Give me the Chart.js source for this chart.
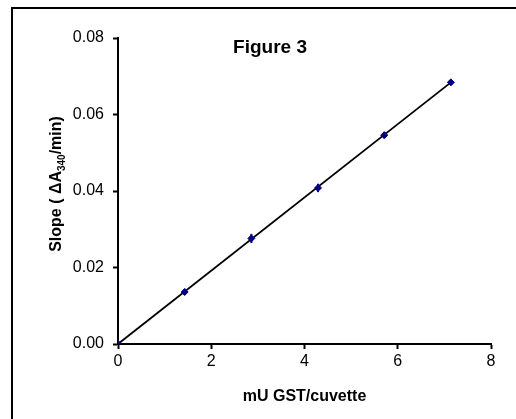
<!DOCTYPE html>
<html>
<head>
<meta charset="utf-8">
<script src="https://cdn.jsdelivr.net/npm/chart.js@4"></script>
<style>
  html, body { margin: 0; padding: 0; background: #fff; }
  #wrap { width: 516px; height: 419px; position: relative; }
</style>
</head>
<body>
<div id="wrap"><canvas id="fig3"></canvas></div>
<script>
// GST amount per cuvette vs. slope of A340
const gstUnits = [0, 1.43, 2.86, 4.29, 5.71, 7.14];
const slopes = [0, 0.0136, 0.0276, 0.0408, 0.0546, 0.0684];
const slopeErr = [0, 0.0008, 0.0012, 0.0011, 0.0008, 0.0005];
// fitted line end points
const fitX = [0, 7.14];
const fitY = [0, 0.0684];
const xTicks = [0, 2, 4, 6, 8];
const yTicks = [0, 0.02, 0.04, 0.06, 0.08];

const navy = '#000080';
const fontFamily = "'Liberation Sans', Arial, sans-serif";

// frame round the whole figure, plus the chart's own title
const framePlugin = {
  id: 'frame',
  beforeDraw(chart) {
    const ctx = chart.ctx;
    ctx.save();
    ctx.fillStyle = '#fff';
    ctx.fillRect(0, 0, chart.width, chart.height);
    ctx.strokeStyle = '#000';
    ctx.lineWidth = 2;
    ctx.strokeRect(12, 8, 700, 700);
    ctx.restore();
  },
  afterDraw(chart) {
    const ctx = chart.ctx;
    ctx.save();
    ctx.fillStyle = '#000';
    ctx.textAlign = 'center';
    ctx.textBaseline = 'middle';
    ctx.font = 'bold 19px ' + fontFamily;
    ctx.fillText('Figure 3', 270, 48);

    // y axis title with subscript
    const parts = [
      { t: 'Slope ( ΔA', size: 16, dy: 0 },
      { t: '340', size: 10, dy: 4 },
      { t: '/min)', size: 16, dy: 0 }
    ];
    let total = 0;
    parts.forEach(p => {
      ctx.font = 'bold ' + p.size + 'px ' + fontFamily;
      p.w = ctx.measureText(p.t).width;
      total += p.w;
    });
    ctx.translate(55, 184);
    ctx.rotate(-Math.PI / 2);
    ctx.textAlign = 'left';
    ctx.textBaseline = 'alphabetic';
    let x = -total / 2;
    parts.forEach(p => {
      ctx.font = 'bold ' + p.size + 'px ' + fontFamily;
      ctx.fillText(p.t, x, 6 + p.dy);
      x += p.w;
    });
    ctx.restore();
  }
};

// small vertical error bars on the measured points
const errorBarPlugin = {
  id: 'errorBars',
  afterDatasetsDraw(chart) {
    const ctx = chart.ctx;
    const xs = chart.scales.x;
    const ys = chart.scales.y;
    ctx.save();
    ctx.strokeStyle = navy;
    ctx.lineWidth = 2;
    for (let i = 0; i < gstUnits.length; i++) {
      if (!slopeErr[i]) continue;
      const px = xs.getPixelForValue(gstUnits[i]);
      ctx.beginPath();
      ctx.moveTo(px, ys.getPixelForValue(slopes[i] - slopeErr[i]));
      ctx.lineTo(px, ys.getPixelForValue(slopes[i] + slopeErr[i]));
      ctx.stroke();
    }
    ctx.restore();
  }
};

new Chart(document.getElementById('fig3'), {
  type: 'scatter',
  data: {
    datasets: [
      {
        label: 'measured',
        data: gstUnits.map((x, i) => ({ x: x, y: slopes[i] })),
        pointStyle: 'rectRot',
        pointRadius: 3.5,
        pointBackgroundColor: navy,
        pointBorderColor: navy,
        pointBorderWidth: 1,
        showLine: false
      },
      {
        label: 'fit',
        data: fitX.map((x, i) => ({ x: x, y: fitY[i] })),
        showLine: true,
        borderColor: '#000',
        borderWidth: 1.8,
        pointRadius: 0
      }
    ]
  },
  plugins: [framePlugin, errorBarPlugin],
  options: {
    responsive: true,
    maintainAspectRatio: false,
    animation: false,
    events: [],
    layout: { padding: { left: 0, right: 25, top: 38, bottom: 0 } },
    plugins: {
      legend: { display: false },
      tooltip: { enabled: false }
    },
    scales: {
      x: {
        type: 'linear',
        min: 0,
        max: 8,
        afterBuildTicks: (scale) => { scale.ticks = xTicks.map(v => ({ value: v })); },
        afterFit: (scale) => { scale.height = 75; },
        border: { color: '#000', width: 2 },
        grid: { drawOnChartArea: false, drawTicks: true, tickLength: 5, tickWidth: 2, tickColor: '#000' },
        ticks: {
          color: '#000',
          padding: 3,
          font: { family: fontFamily, size: 16 },
          callback: (v) => String(v)
        },
        title: {
          display: true,
          text: 'mU GST/cuvette',
          color: '#000',
          font: { family: fontFamily, size: 16, weight: 'bold' },
          padding: { top: 0, bottom: 13 }
        }
      },
      y: {
        type: 'linear',
        min: 0,
        max: 0.08,
        afterBuildTicks: (scale) => { scale.ticks = yTicks.map(v => ({ value: v })); },
        afterFit: (scale) => { scale.width = 118; },
        border: { color: '#000', width: 2 },
        grid: { drawOnChartArea: false, drawTicks: true, tickLength: 5, tickWidth: 2, tickColor: '#000' },
        ticks: {
          color: '#000',
          padding: 9,
          font: { family: fontFamily, size: 16 },
          callback: (v) => Number(v).toFixed(2)
        }
      }
    }
  }
});
</script>
</body>
</html>
